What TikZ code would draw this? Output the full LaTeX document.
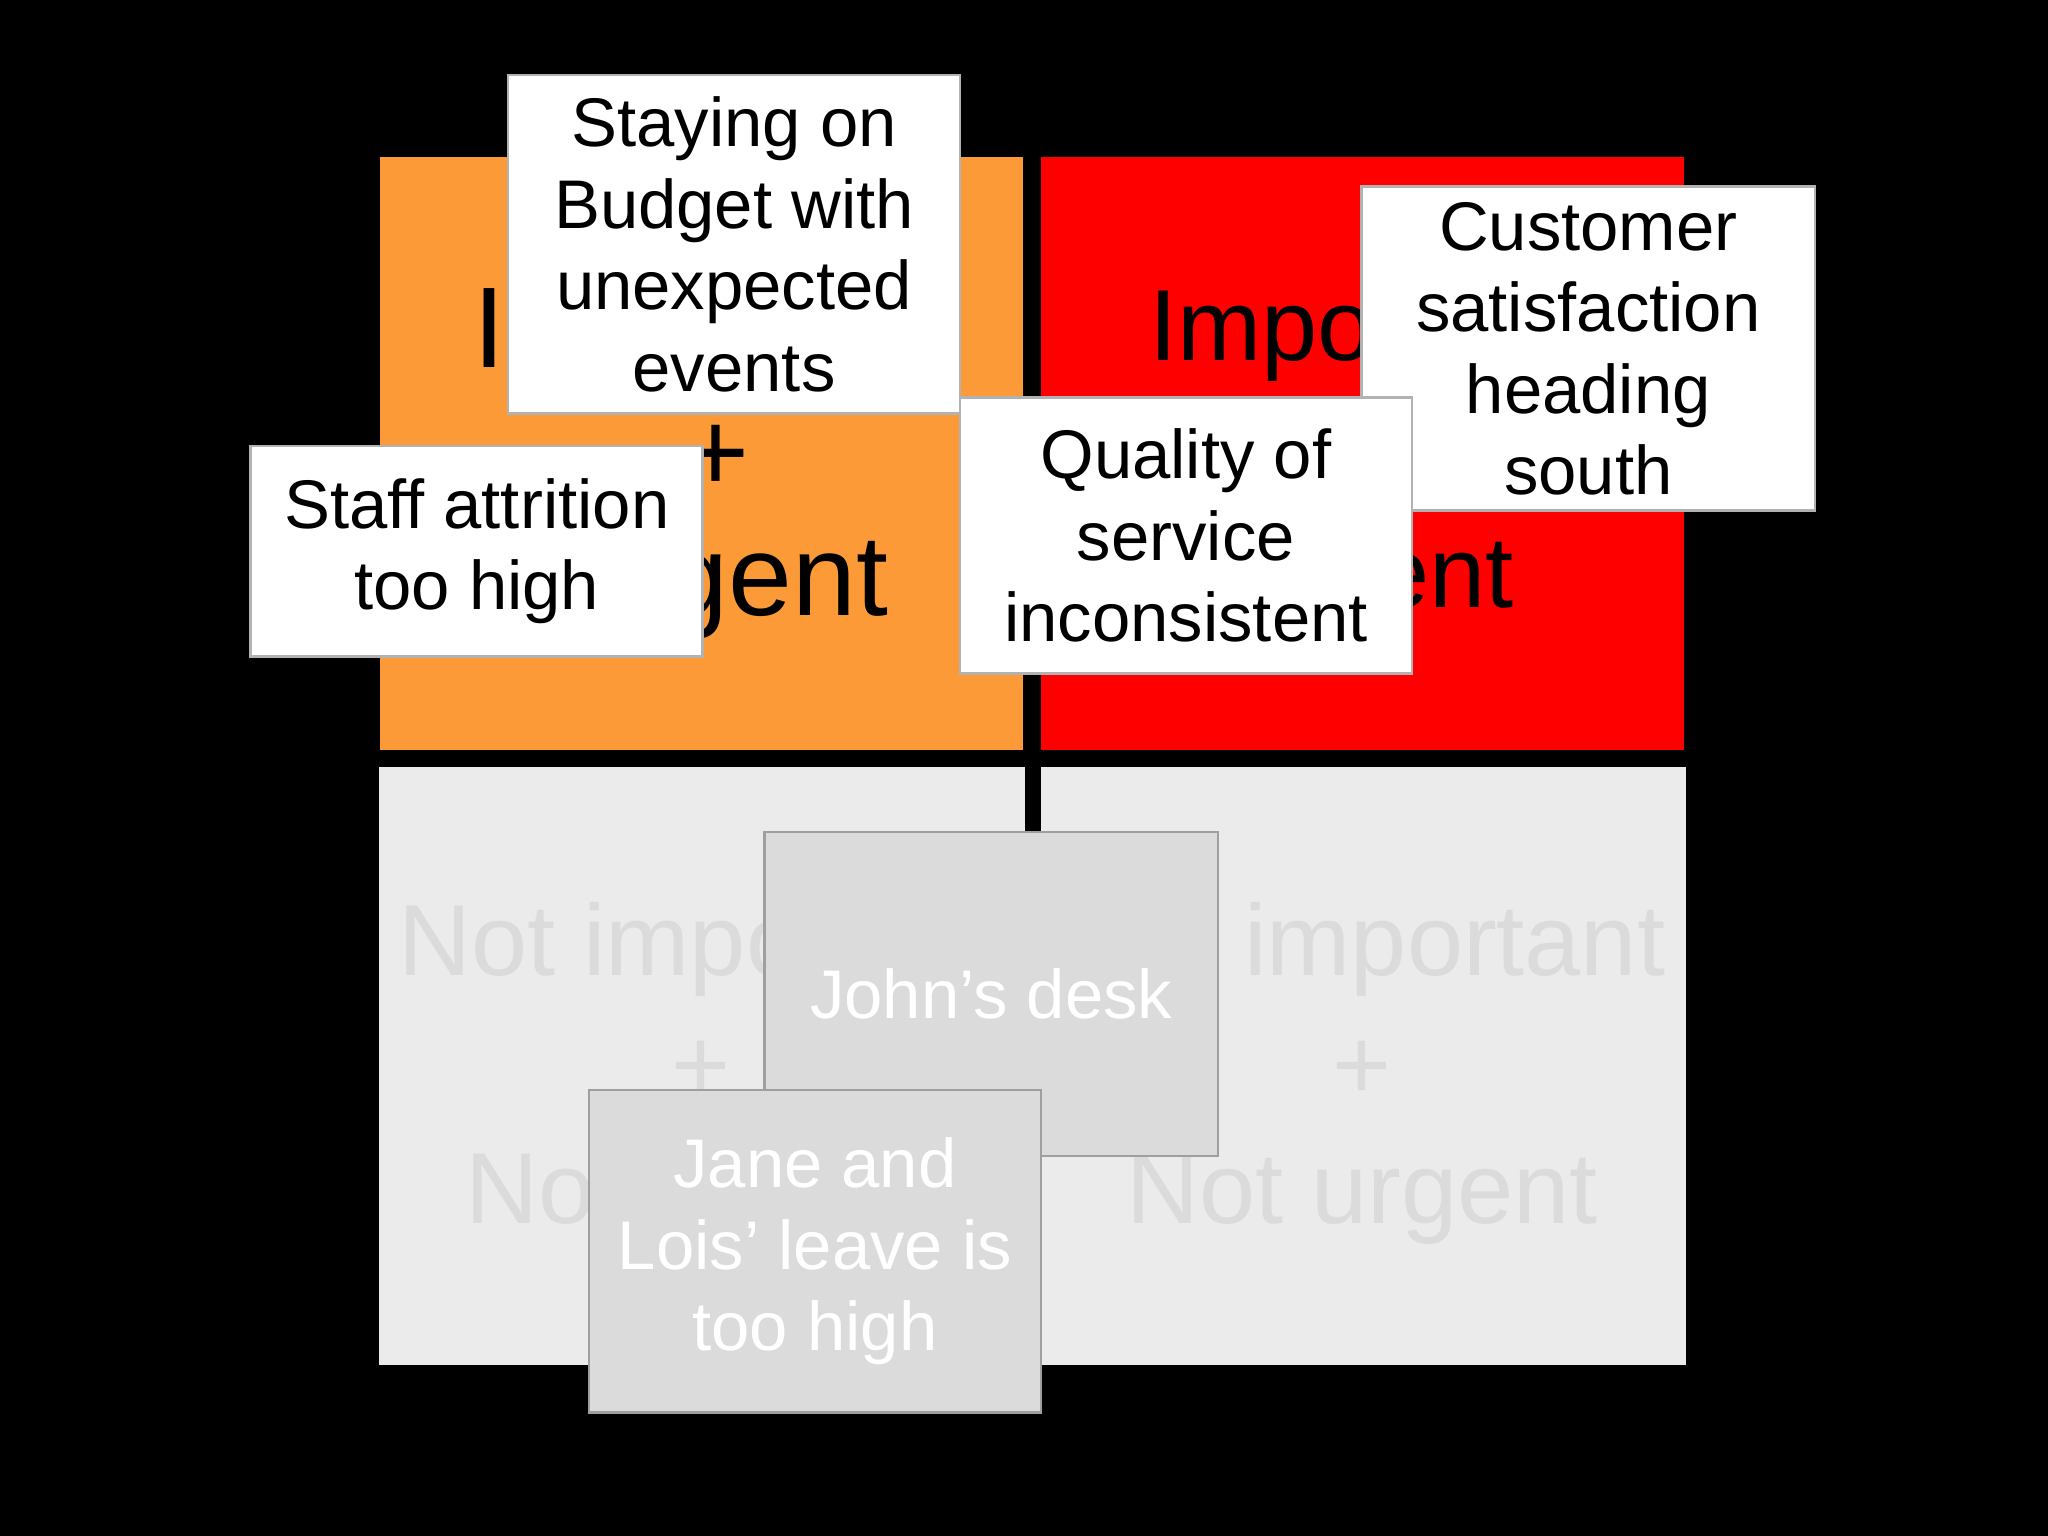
\documentclass[tikz,border=0pt]{standalone}
\usepackage{fontspec}
\setmainfont{Liberation Sans}
\begin{document}
\begin{tikzpicture}[x=0.02cm,y=-0.02cm,
  big/.style={align=center,font=\fontsize{44}{54}\selectfont},
  note/.style={draw=gray!60,line width=1.2pt,fill=white,align=center,font=\fontsize{30}{35.5}\selectfont},
  graynote/.style={draw=gray!75,line width=1.2pt,fill=black!14,align=center,text=white,font=\fontsize{30}{35.5}\selectfont}]
\fill[black] (0,0) rectangle (1568,1176);
\useasboundingbox (0,0) rectangle (1568,1176);
\fill[fill={rgb,255:red,253;green,154;blue,56}] (291,120) rectangle (783,574);
\fill[red] (797,120) rectangle (1289,574);
\fill[black!8] (290,587) rectangle (785,1045);
\fill[black!8] (797,587) rectangle (1291,1045);
\node[big,font=\fontsize{50}{54}\selectfont] (tl) at (548,355) {Important\\+\\Urgent};
\node[big] (tr) at (1043,352) {Important\\+\\Urgent};
\node[big,text=black!14] (bl) at (537,822) {Not important\\+\\Not urgent};
\node[big,text=black!14] (br) at (1043,822) {Not important\\+\\Not urgent};
\node[note,minimum width=346*0.02cm,minimum height=259*0.02cm] (stay) at (562,187) {Staying on\\Budget with\\unexpected\\events};
\node[note,minimum width=346*0.02cm,minimum height=161*0.02cm] (staff) at (365,422) {Staff attrition\\too high};
\node[note,minimum width=347*0.02cm,minimum height=248*0.02cm] (cust) at (1216,267) {Customer\\satisfaction\\heading\\south};
\node[note,minimum width=346*0.02cm,minimum height=211*0.02cm] (qual) at (908,410) {Quality of\\service\\inconsistent};
\node[graynote,minimum width=347*0.02cm,minimum height=248*0.02cm] (john) at (759,761) {John’s desk};
\node[graynote,minimum width=346*0.02cm,minimum height=247*0.02cm] (jane) at (624,958) {Jane and\\Lois’ leave is\\too high};
\end{tikzpicture}
\end{document}
